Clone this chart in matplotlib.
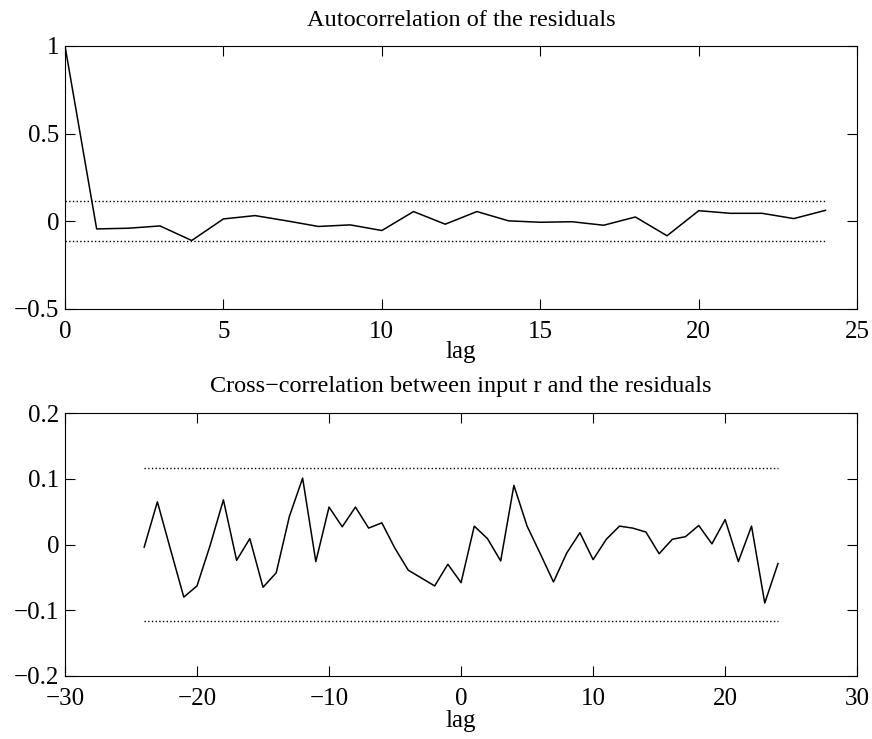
import matplotlib.pyplot as plt
import numpy as np

plt.rcParams['font.family'] = ['Liberation Serif', 'DejaVu Serif']
plt.rcParams['font.size'] = 18
plt.rcParams['axes.unicode_minus'] = True

# autocorrelation of residuals, lags 0..24
acf_lags = list(range(0, 25))
acf_vals = [1.0, -0.044, -0.040, -0.027, -0.110, 0.013, 0.032, 0.002, -0.030,
            -0.021, -0.053, 0.055, -0.017, 0.055, 0.002, -0.006, -0.003, -0.023,
            0.024, -0.083, 0.060, 0.045, 0.045, 0.015, 0.062]
acf_conf = 0.115

# cross-correlation between input r and residuals, lags -24..24
ccf_lags = list(range(-24, 25))
ccf_vals = [-0.004, 0.065, -0.008, -0.080, -0.063, -0.001, 0.068, -0.024, 0.009,
            -0.065, -0.043, 0.043, 0.101, -0.026, 0.057, 0.027, 0.057, 0.025,
            0.033, -0.006, -0.039, -0.051, -0.063, -0.030, -0.058, 0.028, 0.009,
            -0.025, 0.090, 0.028, -0.014, -0.057, -0.013, 0.018, -0.023, 0.008,
            0.028, 0.025, 0.019, -0.014, 0.008, 0.012, 0.029, 0.001, 0.038,
            -0.026, 0.028, -0.089, -0.029]
ccf_conf = 0.116

fig = plt.figure(figsize=(8.72, 7.39), dpi=100)
ax1 = fig.add_axes([0.0745, 0.582, 0.9085, 0.356])
ax2 = fig.add_axes([0.0745, 0.0853, 0.9085, 0.3557])

# top: autocorrelation
ax1.plot(acf_lags, acf_vals, '-', color='black', linewidth=1.1)
ax1.plot([acf_lags[0], acf_lags[-1]], [acf_conf, acf_conf], ':', color='black', linewidth=1)
ax1.plot([acf_lags[0], acf_lags[-1]], [-acf_conf, -acf_conf], ':', color='black', linewidth=1)
ax1.set_xlim(0, 25)
ax1.set_ylim(-0.5, 1)
ax1.set_xticks([0, 5, 10, 15, 20, 25])
ax1.set_yticks([-0.5, 0, 0.5, 1])
ax1.set_yticklabels(['\u22120.5', '0', '0.5', '1'])
ax1.set_title('Autocorrelation of the residuals', fontsize=17.5, pad=14)
ax1.set_xlabel('lag', fontsize=18, labelpad=-2)

# bottom: cross-correlation
ax2.plot(ccf_lags, ccf_vals, '-', color='black', linewidth=1.1)
ax2.plot([ccf_lags[0], ccf_lags[-1]], [ccf_conf, ccf_conf], ':', color='black', linewidth=1)
ax2.plot([ccf_lags[0], ccf_lags[-1]], [-ccf_conf, -ccf_conf], ':', color='black', linewidth=1)
ax2.set_xlim(-30, 30)
ax2.set_ylim(-0.2, 0.2)
ax2.set_xticks([-30, -20, -10, 0, 10, 20, 30])
ax2.set_xticklabels(['\u221230', '\u221220', '\u221210', '0', '10', '20', '30'])
ax2.set_yticks([-0.2, -0.1, 0, 0.1, 0.2])
ax2.set_yticklabels(['\u22120.2', '\u22120.1', '0', '0.1', '0.2'])
ax2.set_title('Cross\u2212correlation between input r and the residuals', fontsize=17.5, pad=15)
ax2.set_xlabel('lag', fontsize=18, labelpad=0)

for ax in (ax1, ax2):
    ax.tick_params(direction='in', length=7, width=0.8, top=True, right=True,
                   labelsize=18)
    ax.tick_params(axis='x', pad=9)
    ax.tick_params(axis='y', pad=4)
    for s in ax.spines.values():
        s.set_linewidth(0.8)

plt.savefig('out.png', dpi=100)
